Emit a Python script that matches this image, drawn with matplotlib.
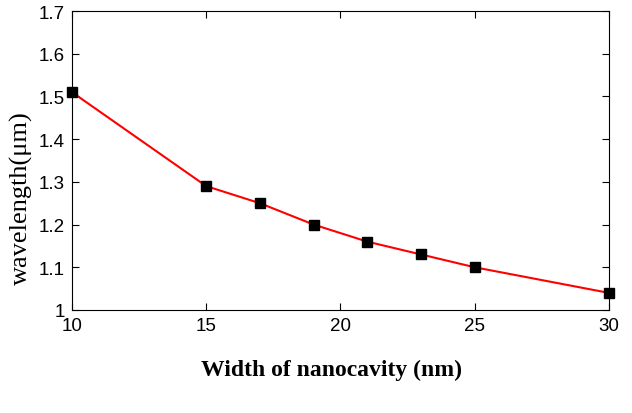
import numpy as np
import matplotlib.pyplot as plt
from matplotlib.ticker import FuncFormatter

width_nm = [10, 15, 17, 19, 21, 23, 25, 30]
wavelength_um = [1.51, 1.29, 1.25, 1.20, 1.16, 1.13, 1.10, 1.04]

x_ticks = [10, 15, 20, 25, 30]
y_ticks = [1.0, 1.1, 1.2, 1.3, 1.4, 1.5, 1.6, 1.7]

plt.rcParams['font.family'] = 'Liberation Sans'

fig = plt.figure(figsize=(6.32, 4.14), dpi=100)
ax = fig.add_axes([0.1139, 0.2488, 0.8497, 0.7222])

ax.plot(width_nm, wavelength_um, color='red', lw=1.5, marker='s',
        markersize=7, markerfacecolor='black', markeredgecolor='black',
        clip_on=False, zorder=3)

ax.set_xlim(10, 30)
ax.set_ylim(1.0, 1.7)
ax.set_xticks(x_ticks)
ax.set_yticks(y_ticks)
ax.yaxis.set_major_formatter(FuncFormatter(lambda v, p: f"{v:g}"))
ax.tick_params(direction='in', top=True, right=True, labelsize=13.5,
               length=5, width=0.8, pad=5)
for s in ax.spines.values():
    s.set_linewidth(0.8)

fig.text(0.525, 0.105, "Width of nanocavity (nm)", ha='center', va='center',
         family='Liberation Serif', weight='bold', fontsize=17)
fig.text(0.034, 0.522, "wavelength(\u03bcm)", ha='center', va='center',
         rotation=90, family='Liberation Serif', fontsize=19)

fig.savefig("out.png", dpi=100)
